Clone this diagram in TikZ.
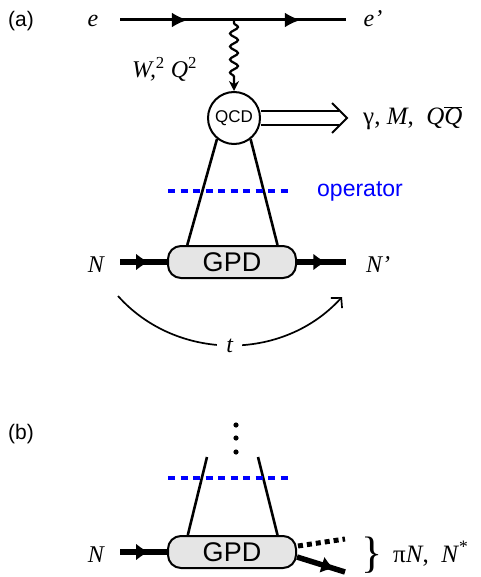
\documentclass[tikz,border=0pt]{standalone}
\usepackage{fontspec}
\setmainfont{Liberation Serif}
\setsansfont{Liberation Sans}
\usetikzlibrary{arrows.meta,positioning,calc,decorations.pathmorphing,decorations.markings}
\definecolor{opblue}{HTML}{0000FF}
\definecolor{boxgray}{HTML}{E5E5E5}

\begin{document}
\begin{tikzpicture}[x=1pt,y=-1pt,every node/.style={inner sep=0pt},
 panel/.style={font=\sffamily\fontsize{21}{22}\selectfont},
 ital/.style={font=\itshape\fontsize{24}{26}\selectfont},
 oplabel/.style={font=\sffamily\fontsize{23}{25}\selectfont,text=opblue},
 gpdbox/.style={draw,line width=2pt,fill=boxgray,rounded corners=13pt,minimum width=128pt,minimum height=32pt,font=\sffamily\fontsize{27}{28}\selectfont},
 qcdcirc/.style={circle,draw,line width=2pt,minimum size=52pt,font=\sffamily\fontsize{17}{18}\selectfont},
 lepton/.style={line width=3pt,postaction={decorate},decoration={markings,
   mark=at position 0.3 with {\arrow{Latex[length=16pt,width=15pt]}},
   mark=at position 0.8 with {\arrow{Latex[length=16pt,width=15pt]}}}},
 hadron/.style={line width=5.5pt,postaction={decorate},decoration={markings,
   mark=at position #1 with {\arrow{Latex[length=13pt,width=17pt]}}}},
 hadron/.default=0.6,
 photon/.style={line width=2.2pt,decorate,decoration={snake,amplitude=4pt,segment length=13pt,pre length=3pt,post length=9pt},-{Stealth[length=10pt,width=10pt]}},
 quark/.style={line width=2.6pt},
 cut/.style={draw=opblue,line width=4.5pt,dash pattern=on 7pt off 5.5pt},
 prodarrow/.style={double,double distance=12pt,line width=1.8pt},
 tarc/.style={line width=1.7pt,-{Straight Barb[length=7pt,width=15pt]}}]
\useasboundingbox (0,0) rectangle (480,577);

% (a) hard exclusive process
\node[panel] (lbla) at (21,21) {(a)};
\node[ital,anchor=base] (ein) at (93,27) {e};
\node[ital,anchor=base] (eout) at (373,27) {e'};
\coordinate (eL) at (120,20); \coordinate (eR) at (346,20); \coordinate (vtx) at (234,20);
\draw[lepton] (eL) -- (eR);
\node[qcdcirc] (qcd) at (234,118) {QCD};
\draw[photon] (vtx) -- (qcd.north);
\node[ital,anchor=base west] (kin) at (132,78) {W,\textsuperscript{\upshape 2} Q\textsuperscript{\upshape 2}};
\coordinate (prodtip) at (347,118);
\draw[prodarrow] (qcd.east) -- ($(prodtip)+(-8,0)$);
\draw[line width=1.8pt] ($(prodtip)+(-15,-15)$) -- (prodtip) -- ($(prodtip)+(-15,15)$);
\node[font=\fontsize{25}{26}\selectfont,anchor=base west] (prod) at (363,125)
 {γ, \textit{M},\ \ \textit{Q}\ensuremath{\overline{\hbox{\textit{Q}}}}};
\node[gpdbox] (gpda) at (232,262) {GPD};
\draw[quark] (qcd.-129) -- ($(gpda.north west)!0.156!(gpda.north east)$);
\draw[quark] (qcd.-52) -- ($(gpda.north west)!0.85!(gpda.north east)$);
\coordinate (opaL) at (168,191); \coordinate (opaR) at (291,191);
\draw[cut] (opaL) -- (opaR);
\node[oplabel,right=26pt of opaR] (opa) {operator};
\node[ital,anchor=base] (nin) at (96,272) {N};
\node[ital,anchor=base] (nout) at (378,272) {N'};
\coordinate (naL) at (120,262); \coordinate (naR) at (346,262);
\draw[hadron=0.62] (naL) -- (gpda.west);
\draw[hadron=0.6] (gpda.east) -- (naR);
\coordinate (tL) at (118,296); \coordinate (tR) at (342,297);
\draw[tarc] (tL) to[bend right=48] node[ital,fill=white,inner xsep=9pt,inner ysep=2pt] (tlbl) {t} (tR);

% (b) transition to pi N, N*
\node[panel] (lblb) at (21,434) {(b)};
\foreach \y in {425,438,452} \fill (236,\y) circle (2.6pt);
\node[gpdbox] (gpdb) at (232,552) {GPD};
\coordinate (qbL) at (207,457); \coordinate (qbR) at (258,457);
\draw[quark] (qbL) -- ($(gpdb.north west)!0.16!(gpdb.north east)$);
\draw[quark] (qbR) -- ($(gpdb.north west)!0.85!(gpdb.north east)$);
\coordinate (opbL) at (168,478); \coordinate (opbR) at (291,478);
\draw[cut] (opbL) -- (opbR);
\node[ital,anchor=base] (nb) at (96,562) {N};
\coordinate (nbL) at (120,552);
\draw[hadron=0.62] (nbL) -- (gpdb.west);
\coordinate (pidot) at (345,539); \coordinate (nstar) at (345,572);
\draw[line width=5pt,dash pattern=on 5pt off 4pt] ($(gpdb.east)+(1,-6)$) -- (pidot);
\draw[hadron=0.78] ($(gpdb.east)+(0,5)$) -- (nstar);
\node[font=\fontsize{44}{44}\selectfont] (brace) at (372,555) {\}};
\node[font=\fontsize{25}{26}\selectfont,anchor=base west] (final) at (393,562)
 {π\textit{N},\ \ \textit{N}\textsuperscript{*}};
\end{tikzpicture}
\end{document}
